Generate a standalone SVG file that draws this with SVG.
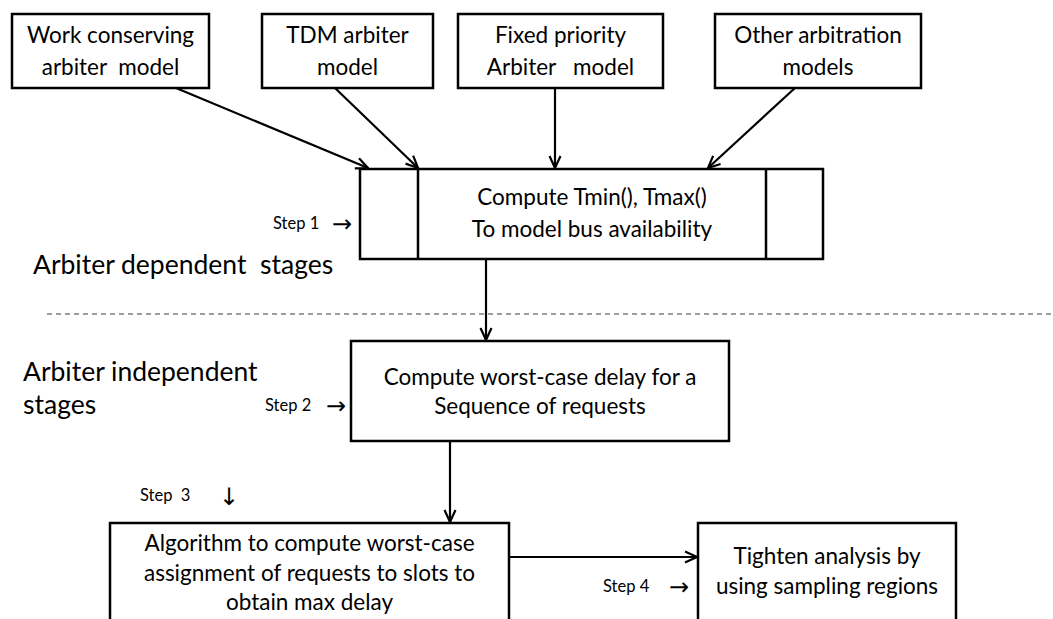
<svg xmlns="http://www.w3.org/2000/svg" width="1053" height="619" viewBox="0 0 1053 619">
  <style>
    .box { fill: #ffffff; stroke: #000000; stroke-width: 2.5; }
    .edge { fill: none; stroke: #000000; stroke-width: 2.2; }
    .t { font-family: Lato, "Liberation Sans", sans-serif; font-size: 22.5px; fill: #000000; text-anchor: middle; }
    .stage { font-family: Lato, "Liberation Sans", sans-serif; font-size: 26.5px; fill: #000000; }
    .step { font-family: Lato, "Liberation Sans", sans-serif; font-size: 16.5px; fill: #000000; }
    .glyph { font-family: "DejaVu Sans", sans-serif; font-size: 24px; fill: #000000; }
    .sep { stroke: #7f7f7f; stroke-width: 1.3; stroke-dasharray: 5 4; }
  </style>
  <defs>
    <marker id="arrow" viewBox="0 0 14 14" refX="13" refY="7" markerWidth="14" markerHeight="14" markerUnits="userSpaceOnUse" orient="auto">
      <polyline points="1,1.5 13,7 1,12.5" fill="none" stroke="#000000" stroke-width="2.2"/>
    </marker>
  </defs>
  <rect width="1053" height="619" fill="#ffffff"/>

  <!-- separator between arbiter dependent and independent stages -->
  <line class="sep" x1="47" y1="314" x2="1053" y2="314"/>

  <!-- connectors -->
  <g id="connectors">
    <line class="edge" x1="176" y1="88" x2="368" y2="168" marker-end="url(#arrow)"/>
    <line class="edge" x1="335" y1="88" x2="418" y2="168" marker-end="url(#arrow)"/>
    <line class="edge" x1="555" y1="88" x2="555" y2="168" marker-end="url(#arrow)"/>
    <line class="edge" x1="795" y1="88" x2="708" y2="168" marker-end="url(#arrow)"/>
    <line class="edge" x1="486" y1="259" x2="486" y2="340" marker-end="url(#arrow)"/>
    <line class="edge" x1="450" y1="441" x2="450" y2="522" marker-end="url(#arrow)"/>
    <line class="edge" x1="509" y1="557" x2="697" y2="557" marker-end="url(#arrow)"/>
  </g>

  <!-- arbiter models -->
  <g id="work-conserving">
    <rect class="box" x="12" y="14" width="197" height="74"/>
    <text class="t" x="110.5" y="43">Work conserving</text>
    <text class="t" x="110.5" y="75" xml:space="preserve">arbiter  model</text>
  </g>
  <g id="tdm">
    <rect class="box" x="262" y="14" width="171" height="74"/>
    <text class="t" x="347.5" y="43">TDM arbiter</text>
    <text class="t" x="347.5" y="75">model</text>
  </g>
  <g id="fixed-priority">
    <rect class="box" x="458" y="14" width="205" height="74"/>
    <text class="t" x="560.5" y="43">Fixed priority</text>
    <text class="t" x="560.5" y="75" xml:space="preserve">Arbiter   model</text>
  </g>
  <g id="other">
    <rect class="box" x="715" y="14" width="206" height="74"/>
    <text class="t" x="818" y="43">Other arbitration</text>
    <text class="t" x="818" y="75">models</text>
  </g>

  <!-- step 1 -->
  <g id="step1">
    <rect class="box" x="360" y="169" width="463" height="90"/>
    <line class="box" x1="418" y1="169" x2="418" y2="259"/>
    <line class="box" x1="766" y1="169" x2="766" y2="259"/>
    <text class="t" x="592" y="205">Compute Tmin(), Tmax()</text>
    <text class="t" x="592" y="237">To model bus availability</text>
  </g>

  <!-- step 2 -->
  <g id="step2">
    <rect class="box" x="351" y="341" width="378" height="100"/>
    <text class="t" x="540" y="385">Compute worst-case delay for a</text>
    <text class="t" x="540" y="414">Sequence of requests</text>
  </g>

  <!-- step 3 -->
  <g id="step3">
    <rect class="box" x="110" y="523" width="399" height="110"/>
    <text class="t" x="309.5" y="551">Algorithm to compute worst-case</text>
    <text class="t" x="309.5" y="581">assignment of requests to slots to</text>
    <text class="t" x="309.5" y="610">obtain max delay</text>
  </g>

  <!-- step 4 -->
  <g id="step4">
    <rect class="box" x="698" y="523" width="258" height="110"/>
    <text class="t" x="827" y="564">Tighten analysis by</text>
    <text class="t" x="827" y="594">using sampling regions</text>
  </g>

  <!-- stage captions and step labels -->
  <g id="labels">
    <text class="stage" x="33" y="274" xml:space="preserve">Arbiter dependent  stages</text>
    <text class="stage" x="23" y="381">Arbiter independent</text>
    <text class="stage" x="23" y="414">stages</text>
    <text class="step" x="273" y="229">Step 1</text>
    <text class="glyph" x="332" y="232">→</text>
    <text class="step" x="265" y="411">Step 2</text>
    <text class="glyph" x="326" y="414">→</text>
    <text class="step" x="140" y="501" xml:space="preserve">Step  3</text>
    <text class="glyph" x="219" y="505">↓</text>
    <text class="step" x="603" y="592">Step 4</text>
    <text class="glyph" x="669" y="595">→</text>
  </g>
</svg>
